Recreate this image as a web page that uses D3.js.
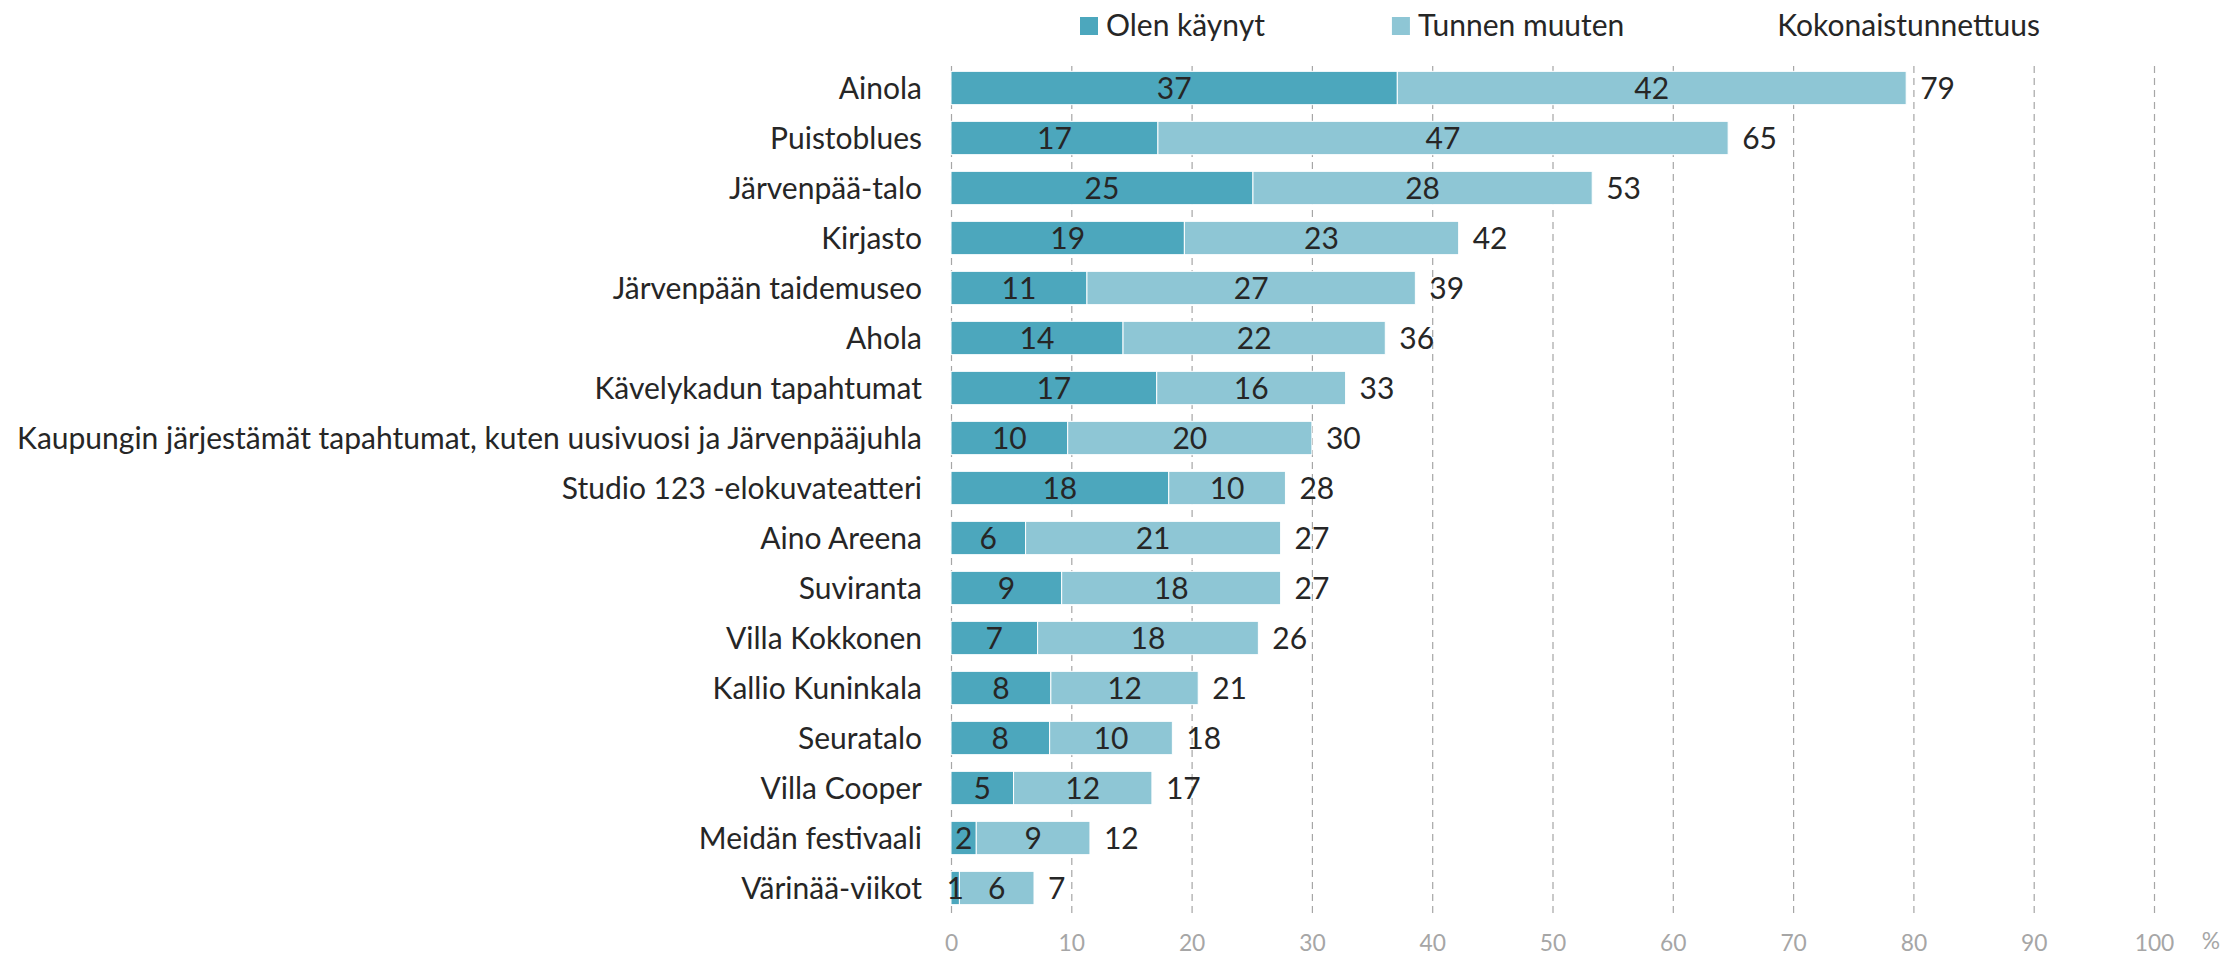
<!DOCTYPE html>
<html>
<head>
<meta charset="utf-8">
<script src="https://cdn.jsdelivr.net/npm/d3@7/dist/d3.min.js"></script>
<style>
  html, body { margin: 0; padding: 0; background: #fff; }
  svg { display: block; }
</style>
</head>
<body>
<svg id="chart" width="2226" height="957"></svg>
<script>

// Categories, top to bottom
var places = [
	'Ainola',
	'Puistoblues',
	'Järvenpää-talo',
	'Kirjasto',
	'Järvenpään taidemuseo',
	'Ahola',
	'Kävelykadun tapahtumat',
	'Kaupungin järjestämät tapahtumat, kuten uusivuosi ja Järvenpääjuhla',
	'Studio 123 -elokuvateatteri',
	'Aino Areena',
	'Suviranta',
	'Villa Kokkonen',
	'Kallio Kuninkala',
	'Seuratalo',
	'Villa Cooper',
	'Meidän festivaali',
	'Värinää-viikot'
];

// % values (the labels are these rounded)
var visited = [37.1, 17.2, 25.1, 19.4, 11.3, 14.3, 17.1, 9.7, 18.1, 6.2, 9.2, 7.2, 8.3, 8.2, 5.2, 2.1, 0.7];
var knownOtherwise = [42.3, 47.4, 28.2, 22.8, 27.3, 21.8, 15.7, 20.3, 9.7, 21.2, 18.2, 18.35, 12.25, 10.2, 11.5, 9.45, 6.2];

var seriesNames = ['Olen käynyt', 'Tunnen muuten', 'Kokonaistunnettuus'];
var xTicks = [0, 10, 20, 30, 40, 50, 60, 70, 80, 90, 100];

var FONT = 'Lato, "Liberation Sans", sans-serif';
var DARK = '#4ca7bd', LIGHT = '#8ec6d5', TEXT = '#262626', GREY = '#a6a6a6';

var svg = d3.select('#chart')
	.style('font-family', FONT);

// figure out a font size so the longest label is as wide as in the original
var longest = places.reduce(function(a, b){ return a.length > b.length ? a : b; });
var probe = svg.append('text').style('font-size', '100px').text(longest);
var fs = 100 * 905 / probe.node().getComputedTextLength();
probe.remove();

var rows = places.map(function(name, i){
	return { name: name, a: visited[i], b: knownOtherwise[i], total: visited[i] + knownOtherwise[i] };
});

var x = d3.scaleLinear().domain([0, 100]).range([951, 2154]);
var y = d3.scaleBand().domain(places).range([63, 913]).paddingInner(1/3).paddingOuter(1/6);

// gridlines + tick labels
var axis = svg.append('g')
	.attr('transform', 'translate(0,913)')
	.call(d3.axisBottom(x).tickValues(xTicks).tickSize(-850).tickFormat(d3.format('d')));

axis.select('.domain').remove();
axis.selectAll('.tick line')
	.attr('stroke', GREY)
	.attr('stroke-width', 1.2)
	.attr('stroke-dasharray', '7,5');
axis.selectAll('.tick text')
	.attr('y', 38)
	.attr('dy', 0)
	.attr('fill', GREY)
	.style('font-family', FONT)
	.style('font-size', (fs * 0.76) + 'px');

svg.append('text')
	.attr('x', 2211)
	.attr('y', 949)
	.attr('text-anchor', 'middle')
	.attr('fill', GREY)
	.style('font-size', (fs * 0.76) + 'px')
	.text('%');

// bars
var row = svg.selectAll('g.row').data(rows).enter().append('g')
	.attr('class', 'row')
	.attr('transform', function(d){ return 'translate(0,' + y(d.name) + ')'; });

row.append('rect')
	.attr('x', x(0))
	.attr('width', function(d){ return x(d.a) - x(0); })
	.attr('height', y.bandwidth())
	.attr('fill', DARK)
	.attr('stroke', '#fff')
	.attr('stroke-width', 1);

row.append('rect')
	.attr('x', function(d){ return x(d.a); })
	.attr('width', function(d){ return x(d.a + d.b) - x(d.a); })
	.attr('height', y.bandwidth())
	.attr('fill', LIGHT)
	.attr('stroke', '#fff')
	.attr('stroke-width', 1);

var mid = y.bandwidth() / 2;

function label(sel, xf, txt, anchor){
	sel.append('text')
		.attr('x', xf)
		.attr('y', mid)
		.attr('dy', '0.36em')
		.attr('text-anchor', anchor)
		.attr('fill', TEXT)
		.style('font-size', fs + 'px')
		.text(txt);
}

label(row, function(d){ return x(d.a / 2); }, function(d){ return Math.round(d.a); }, 'middle');
label(row, function(d){ return x(d.a + d.b / 2); }, function(d){ return Math.round(d.b); }, 'middle');
label(row, function(d){ return x(d.total) + 14; }, function(d){ return Math.round(d.total); }, 'start');
label(row, 922, function(d){ return d.name; }, 'end');

// legend, spaced like excel does it (fixed gap after each text)
var lx = 1080;
var swatchColors = [DARK, LIGHT, 'none'];
seriesNames.forEach(function(name, i){
	svg.append('rect')
		.attr('x', lx).attr('y', 17)
		.attr('width', 18).attr('height', 18)
		.attr('fill', swatchColors[i]);
	var t = svg.append('text')
		.attr('x', lx + 26)
		.attr('y', 36)
		.attr('fill', TEXT)
		.style('font-size', fs + 'px')
		.text(name);
	lx = lx + 26 + t.node().getComputedTextLength() + 127;
});

</script>
</body>
</html>
